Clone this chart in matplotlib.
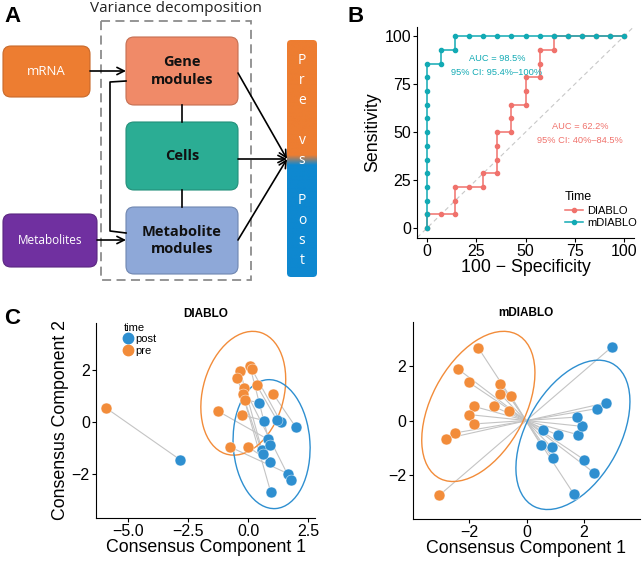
import numpy as np
import matplotlib
matplotlib.use('Agg')
import matplotlib.pyplot as plt
from matplotlib.patches import FancyBboxPatch, Rectangle, Ellipse
from matplotlib.lines import Line2D

plt.rcParams['font.family'] = ['Liberation Sans', 'DejaVu Sans']

# ---- panel B: ROC steps (percent) ----
diablo_fpr = [0, 0, 7.14, 14.29, 14.29, 14.29, 21.43, 28.57, 28.57, 35.71, 35.71, 35.71, 35.71,
              42.86, 42.86, 42.86, 50, 50, 50, 57.14, 57.14, 57.14, 64.29, 64.29,
              71.43, 78.57, 85.71, 92.86, 100]
diablo_tpr = [0, 7.14, 7.14, 7.14, 14.29, 21.43, 21.43, 21.43, 28.57, 28.57, 35.71, 42.86, 50,
              50, 57.14, 64.29, 64.29, 71.43, 78.57, 78.57, 85.71, 92.86, 92.86, 100,
              100, 100, 100, 100, 100]
mdiablo_fpr = [0, 0, 0, 0, 0, 0, 0, 0, 0, 0, 0, 0, 0, 7.14, 7.14, 14.29, 14.29,
               21.43, 28.57, 35.71, 42.86, 50, 57.14, 64.29, 71.43, 78.57, 85.71, 92.86, 100]
mdiablo_tpr = [0, 7.14, 14.29, 21.43, 28.57, 35.71, 42.86, 50, 57.14, 64.29, 71.43, 78.57, 85.71,
               85.71, 92.86, 92.86, 100, 100, 100, 100, 100, 100, 100, 100, 100, 100, 100, 100, 100]
roc_ticks = [0, 25, 50, 75, 100]

# ---- panel C: consensus components, pre[i] paired with post[i] ----
diablo_pre_x = [-5.93, 1.04, -1.25, -0.76, 0.0, -0.35, 0.07, 0.14, -0.46, -0.18, -0.24, -0.14, 0.35, -0.28]
diablo_pre_y = [0.54, 1.08, 0.41, -0.97, -0.97, 1.99, 2.15, 2.05, 1.70, 1.32, 1.10, 0.86, 1.42, 0.27]
diablo_post_x = [-2.85, 1.97, 0.83, 1.67, 0.90, 0.56, 0.90, 1.36, 0.60, 1.76, 0.93, 0.46, 1.18, 0.67]
diablo_post_y = [-1.46, -0.19, -0.68, -2.01, -1.54, -1.07, -0.88, -0.01, -1.26, -2.26, -2.70, 0.74, 0.09, 0.05]
diablo_xticks = [-5, -2.5, 0, 2.5]
diablo_xlabels = ['−5.0', '−2.5', '0.0', '2.5']

mdiablo_pre_x = [-1.69, -2.41, -2.03, -0.93, -0.93, -0.55, -1.84, -1.16, -0.62, -2.0, -1.83, -2.5, -2.81, -3.05]
mdiablo_pre_y = [2.66, 1.90, 1.41, 1.35, 0.98, 0.89, 0.52, 0.52, 0.34, 0.22, -0.12, -0.45, -0.66, -2.73]
mdiablo_post_x = [1.63, 2.35, 2.0, 0.91, 0.87, 0.49, 1.77, 1.10, 0.58, 1.94, 1.74, 2.44, 2.76, 2.97]
mdiablo_post_y = [-2.67, -1.91, -1.43, -1.37, -0.98, -0.88, -0.51, -0.54, -0.33, -0.21, 0.13, 0.44, 0.65, 2.70]
mdiablo_xticks = [-2, 0, 2]
comp_yticks = [-2, 0, 2]

# ellipses: centre x, centre y, major, minor, angle
diablo_ell_pre = (-0.21, 1.11, 4.92, 3.36, 72)
diablo_ell_post = (0.97, -0.86, 5.0, 3.2, 94)
mdiablo_ell_pre = (-1.69, 0.52, 5.92, 3.28, 63.5)
mdiablo_ell_post = (1.61, -0.52, 5.9, 3.3, 63)

W, H = 643, 566
fig = plt.figure(figsize=(W / 100, H / 100), dpi=100)


def px_axes(left, top, right, bottom):
    return fig.add_axes([left / W, 1 - bottom / H, (right - left) / W, (bottom - top) / H])


# ================= Panel A (diagram, pixel coordinates) =================
ax_a = px_axes(0, 0, 340, 290)
ax_a.set_xlim(0, 340)
ax_a.set_ylim(290, 0)
ax_a.axis('off')


def box(x0, y0, x1, y1, fc, ec, text, tcolor, size, weight='normal'):
    p = FancyBboxPatch((x0, y0), x1 - x0, y1 - y0, boxstyle='round,pad=0,rounding_size=8',
                       fc=fc, ec=ec, lw=0.8)
    ax_a.add_patch(p)
    ax_a.text((x0 + x1) / 2, (y0 + y1) / 2, text, ha='center', va='center', color=tcolor,
              fontsize=size, fontweight=weight, linespacing=1.3, family=['Open Sans', 'DejaVu Sans'])
    return p


ax_a.add_patch(Rectangle((101, 21), 150, 259, fill=False, ec='#8c8c8c', lw=1.3, ls=(0, (5, 3))))
ax_a.text(176, 9, 'Variance decomposition', ha='center', va='center', fontsize=11,
          family=['Open Sans', 'DejaVu Sans'], color='#222222')

box(3, 46, 90, 97, '#ED7D31', '#c8692a', 'mRNA', 'white', 9.5)
box(3, 214, 97, 267, '#7030A0', '#5a2680', 'Metabolites', 'white', 8.5)
box(126, 37, 238, 105, '#F08A68', '#c46f52', 'Gene\nmodules', '#111111', 10.5, 'bold')
box(126, 122, 238, 190, '#2BAD94', '#23907a', 'Cells', '#111111', 10.5, 'bold')
box(126, 207, 238, 274, '#8EA8D8', '#6f86b0', 'Metabolite\nmodules', '#111111', 10.5, 'bold')

# links between the decomposition boxes
ax_a.plot([182, 182], [105, 122], color='black', lw=1.2)
ax_a.plot([182, 182], [190, 207], color='black', lw=1.2)
ax_a.plot([126, 110, 110, 126], [81, 82, 231, 233], color='black', lw=1.2)

arrow_open = dict(arrowstyle='->', lw=1.2, color='black', mutation_scale=13, shrinkA=0, shrinkB=0)
ax_a.annotate('', xy=(126, 71), xytext=(90, 71), arrowprops=arrow_open)
ax_a.annotate('', xy=(126, 240), xytext=(97, 240), arrowprops=arrow_open)
for sx, sy in [(238, 73), (238, 159), (238, 240)]:
    ax_a.annotate('', xy=(287, 159), xytext=(sx, sy), arrowprops=arrow_open)

# Pre vs Post bar with a soft colour change
bar = FancyBboxPatch((287, 40), 30, 237, boxstyle='round,pad=0,rounding_size=4',
                     fc='none', ec='none')
ax_a.add_patch(bar)
rows = np.linspace(40, 277, 240)
mix = np.clip((rows - 155) / 10, 0, 1)[:, None]
orange = np.array([237, 125, 49]) / 255
blue = np.array([14, 136, 208]) / 255
grad = (1 - mix) * orange + mix * blue
im = ax_a.imshow(grad[:, None, :], extent=(287, 317, 277, 40), aspect='auto', zorder=2)
im.set_clip_path(bar)
ax_a.set_xlim(0, 340)
ax_a.set_ylim(290, 0)
for i, ch in enumerate('Pre vs Post'):
    if ch != ' ':
        ax_a.text(302, 60 + 20 * i, ch, ha='center', va='center', color='white', fontsize=10,
                  family=['Open Sans', 'DejaVu Sans'], zorder=3)

# ================= Panel B (ROC) =================
red = '#F0726C'
teal = '#12AAB4'
ax_b = px_axes(417.2, 26.6, 633.9, 237.6)
ax_b.axline((0, 0), slope=1, color='#c8c8c8', lw=0.8, ls=(0, (4, 3)))
ax_b.plot(diablo_fpr, diablo_tpr, color=red, lw=1.1, marker='o', ms=3, label='DIABLO')
ax_b.plot(mdiablo_fpr, mdiablo_tpr, color=teal, lw=1.1, marker='o', ms=3, label='mDIABLO')
ax_b.set_xlim(-5, 105)
ax_b.set_ylim(-5, 105)
ax_b.set_xticks(roc_ticks)
ax_b.set_yticks(roc_ticks)
ax_b.text(35.5, 88.5, 'AUC = 98.5%', color=teal, fontsize=6.7, ha='center', va='center')
ax_b.text(35.5, 81.2, '95% CI: 95.4%–100%', color=teal, fontsize=6.7, ha='center', va='center')
ax_b.text(77.7, 53.1, 'AUC = 62.2%', color=red, fontsize=6.7, ha='center', va='center')
ax_b.text(77.7, 45.8, '95% CI: 40%–84.5%', color=red, fontsize=6.7, ha='center', va='center')
ax_b.set_xlabel('100 − Specificity', fontsize=12.8, labelpad=0)
ax_b.set_ylabel('Sensitivity', fontsize=12.8, labelpad=2)
leg = ax_b.legend(title='Time', loc='lower right', bbox_to_anchor=(1.04, 0.02), frameon=False,
                  fontsize=8, title_fontsize=9, handlelength=1.6, handletextpad=0.4,
                  labelspacing=0.2, borderpad=0)
leg._legend_box.align = 'left'

# ================= Panel C (consensus plots) =================
c_blue = '#2E8FD0'
c_orange = '#F28C3A'


def consensus(ax, pre_x, pre_y, post_x, post_y, ell_pre, ell_post):
    for i in range(len(pre_x)):
        ax.plot([pre_x[i], post_x[i]], [pre_y[i], post_y[i]], color='#c4c4c4', lw=0.8, zorder=1)
    ax.scatter(pre_x, pre_y, s=62, color=c_orange, edgecolor='white', lw=0.3, zorder=3)
    ax.scatter(post_x, post_y, s=62, color=c_blue, edgecolor='white', lw=0.3, zorder=3)
    for (cx, cy, w, h, ang), col in [(ell_pre, c_orange), (ell_post, c_blue)]:
        ax.add_patch(Ellipse((cx, cy), w, h, angle=ang, fill=False, ec=col, lw=1.0, zorder=2))
    ax.set_yticks(comp_yticks)


ax_c1 = px_axes(96, 323, 315, 518)
consensus(ax_c1, diablo_pre_x, diablo_pre_y, diablo_post_x, diablo_post_y, diablo_ell_pre, diablo_ell_post)
ax_c1.set_xlim(-6.35, 2.78)
ax_c1.set_ylim(-3.72, 3.83)
ax_c1.set_xticks(diablo_xticks, diablo_xlabels)
ax_c1.set_title('DIABLO', fontsize=8.5, fontweight='bold', pad=4)
ax_c1.set_xlabel('Consensus Component 1', fontsize=12.8, labelpad=0)
ax_c1.set_ylabel('Consensus Component 2', fontsize=12.8, labelpad=2)
handles = [Line2D([], [], ls='', marker='o', ms=7.5, color=c_blue, label='post'),
           Line2D([], [], ls='', marker='o', ms=7.5, color=c_orange, label='pre')]
leg2 = ax_c1.legend(handles=handles, title='time', loc='upper left', bbox_to_anchor=(0.1, 1.03),
                    frameon=False, fontsize=8, title_fontsize=8, handlelength=0.8,
                    handletextpad=0.3, labelspacing=0.15, borderpad=0)
leg2._legend_box.align = 'left'

ax_c2 = px_axes(412.7, 322, 640, 519)
consensus(ax_c2, mdiablo_pre_x, mdiablo_pre_y, mdiablo_post_x, mdiablo_post_y, mdiablo_ell_pre, mdiablo_ell_post)
ax_c2.set_xlim(-3.98, 3.95)
ax_c2.set_ylim(-3.6, 3.61)
ax_c2.set_xticks(mdiablo_xticks, ['−2', '0', '2'])
ax_c2.set_title('mDIABLO', fontsize=8.5, fontweight='bold', pad=4)
ax_c2.set_xlabel('Consensus Component 1', fontsize=12.8, labelpad=0)

for ax in (ax_b, ax_c1, ax_c2):
    for s in ('top', 'right'):
        ax.spines[s].set_visible(False)
    for s in ('left', 'bottom'):
        ax.spines[s].set_linewidth(0.8)
    ax.tick_params(labelsize=11.5, length=3, width=0.8, pad=1.5)

# panel letters
for x, y, letter in [(4, 16, 'A'), (347, 16, 'B'), (4, 318, 'C')]:
    fig.text(x / W, 1 - y / H, letter, fontsize=16, fontweight='bold', va='center', ha='left',
             family=['Liberation Sans', 'DejaVu Sans'])

fig.savefig('out.png', dpi=100)
